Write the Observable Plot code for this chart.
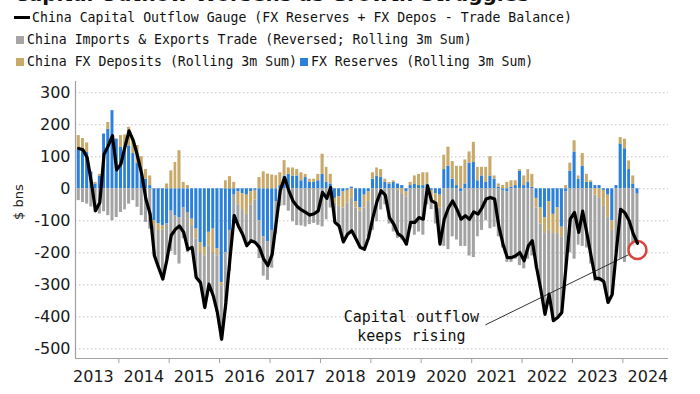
<!DOCTYPE html>
<html><head><meta charset="utf-8">
<script src="https://cdn.jsdelivr.net/npm/d3@7"></script>
<script src="https://cdn.jsdelivr.net/npm/@observablehq/plot@0.6"></script>
<style>
body{margin:0;background:#fff;}
#wrap{position:relative;width:700px;height:394px;overflow:hidden;background:#fff;}
#head{position:relative;height:74px;}
.t{position:absolute;font-family:"DejaVu Sans Mono",monospace;font-size:13.2px;color:#111;white-space:nowrap;line-height:16px;}
.sw{position:absolute;}
#title{position:absolute;left:14px;top:-18px;font:bold 20px "DejaVu Sans",sans-serif;white-space:nowrap;color:#111;}
#chart svg{display:block;}
</style></head>
<body><div id="wrap">
<div id="head">
  <div id="title">Capital Outflow Worsens as Growth Struggles</div>
  <div class="sw" style="left:14px;top:16px;width:16px;height:3px;background:#000;"></div>
  <div class="t" style="left:32px;top:10px;">China Capital Outflow Gauge (FX Reserves + FX Depos - Trade Balance)</div>
  <div class="sw" style="left:16px;top:36px;width:8px;height:8px;background:#a5a5a5;"></div>
  <div class="t" style="left:27px;top:32px;">China Imports &amp; Exports Trade (Reversed; Rolling 3m Sum)</div>
  <div class="sw" style="left:16px;top:58px;width:8px;height:8px;background:#c8a96a;"></div>
  <div class="t" style="left:27px;top:54px;">China FX Deposits (Rolling 3m Sum)</div>
  <div class="sw" style="left:300px;top:58px;width:8px;height:8px;background:#2b80da;"></div>
  <div class="t" style="left:311px;top:54px;">FX Reserves (Rolling 3m Sum)</div>
</div>
<div id="chart"></div>
</div>
<script>
// Monthly data, first month = March 2013, last = April 2024 ($ bns)
const firstMonth = "2013-03-01";

const reserves = [124,124,113,53,15,40,171,186,244,155,129,124,134,110,80,50,30,10,
-100,-110,-115,-110,-70,-85,-90,-60,-74,-95,-126,-168,-183,-136,-126,-188,-293,-200,-130,
-20,-10,-15,-20,-10,-5,-100,-150,-165,-130,-40,10,40,45,40,40,25,35,20,20,25,45,20,15,
-30,-25,-10,-5,5,-40,-60,-20,-10,30,40,35,20,15,20,15,10,-10,10,15,10,10,15,-5,-15,-20,
60,70,30,10,-10,15,80,82,25,40,20,40,30,5,-5,-10,5,10,55,10,20,5,-30,-60,-90,-40,-80,-60,
-120,-10,55,115,30,70,20,20,10,10,-5,-20,-100,10,140,125,60,15,-17];

const deposits = [42,33,30,0,5,5,0,21,0,0,37,44,58,40,55,50,30,30,
-15,-20,-15,15,56,82,119,20,10,-20,-31,-31,-26,-42,-73,-21,-10,25,38,
20,-40,-50,-60,-40,-30,35,53,46,43,41,40,48,20,25,20,25,10,10,10,20,63,47,30,
-15,-30,-50,-40,-30,-20,-10,-40,-30,20,25,25,10,5,5,-5,-15,-15,10,25,35,40,35,-20,-35,-40,
45,60,55,60,70,75,35,63,42,27,47,60,10,10,10,20,20,15,5,30,40,40,-30,-50,-50,-90,-60,-80,
-30,10,25,35,10,40,25,5,-20,-30,-50,-70,-30,0,20,30,27,25,0];

const trade = [-37,-43,-48,-57,-74,-79,-72,-84,-100,-90,-74,-66,-48,-37,-58,-84,-105,-126,
-95,-115,-150,-125,-126,-123,-145,-96,-125,-68,-120,-94,-162,-120,-135,-177,-167,-180,-128,
-84,-66,-77,-98,-112,-133,-118,-123,-121,-118,-101,-55,-53,-70,-103,-115,-116,-119,-112,-108,-114,-119,-97,-60,
-60,-61,-106,-97,-106,-97,-113,-129,-112,-130,-103,-66,-50,-110,-135,-150,-145,-148,-125,-145,-135,-145,-50,-40,-60,-110,
-180,-190,-150,-160,-170,-180,-210,-215,-150,-130,-100,-125,-120,-150,-180,-220,-230,-220,-240,-250,-220,-210,-190,-200,-250,-200,-270,-260,
-240,-240,-200,-220,-176,-180,-185,-235,-270,-260,-235,-265,-200,-200,-220,-230,-190,-180,-160];

const gauge = [126,122,98,20,-69,-43,108,134,166,59,77,134,181,150,103,46,-32,-79,
-209,-246,-282,-220,-145,-126,-116,-136,-189,-183,-277,-293,-371,-298,-334,-386,-470,-355,-220,
-84,-116,-142,-178,-162,-168,-183,-220,-240,-205,-100,-5,35,-5,-38,-55,-66,-74,-82,-78,-69,-11,-30,4,
-105,-116,-166,-142,-131,-157,-183,-189,-152,-90,-38,-6,-20,-90,-110,-140,-150,-173,-105,-105,-90,-95,9,-38,-45,-173,
-95,-60,-38,-64,-95,-84,-95,-72,-79,-60,-32,-27,-32,-116,-173,-215,-215,-209,-199,-225,-178,-162,-246,-313,-392,-329,-412,-402,
-386,-240,-95,-74,-136,-70,-140,-210,-280,-280,-290,-355,-330,-190,-64,-75,-100,-140,-170];

const seriesNames = ["FX Reserves", "China FX Deposits", "China Imports & Exports Trade"];
const seriesColors = ["#2b80da", "#c8a96a", "#a3a3a3"];

const yTicks = [-500,-400,-300,-200,-100,0,100,200,300];
const tickYears = [2014,2015,2016,2017,2018,2019,2020,2021,2022,2023,2024];
const labelYears = [2013,2014,2015,2016,2017,2018,2019,2020,2021,2022,2023,2024];

const xDomain = [new Date("2013-02-21"), new Date("2024-11-27")];
const yDomain = [-530, 335];

const note = {text: "Capital outflow\nkeeps rising", x: new Date("2019-10-22"), y: -426};
const pointer = {x1: new Date("2021-04-10"), y1: -425, x2: new Date("2024-02-25"), y2: -203};
const marker = {x: new Date("2024-04-16"), y: -191};

// build tables
const start0 = new Date(firstMonth);
const months = reserves.map((_, i) => d3.utcMonth.offset(start0, i));
const rows = [];
const seriesArrays = [reserves, deposits, trade];
months.forEach((m, i) => {
  const end = d3.utcMonth.offset(m, 1);
  seriesArrays.forEach((arr, k) => rows.push({start: m, end, series: seriesNames[k], value: arr[i]}));
});
const lineRows = months.map((m, i) => ({mid: d3.utcDay.offset(m, 15), value: gauge[i]}));

const mono = "DejaVu Sans Mono, monospace";
const sans = "DejaVu Sans, sans-serif";

const chart = Plot.plot({
  width: 700,
  height: 320,
  marginLeft: 75,
  marginRight: 32,
  marginTop: 7,
  marginBottom: 36,
  style: {fontFamily: sans, fontSize: "16px", color: "#1a1a1a", background: "#fff"},
  x: {type: "utc", domain: xDomain, label: null},
  y: {domain: yDomain, label: null},
  color: {domain: seriesNames, range: seriesColors},
  marks: [
    Plot.ruleY(yTicks, {stroke: "#c4c4c4", strokeWidth: 1, strokeDasharray: "1.5,2.5"}),
    Plot.rectY(rows, Plot.stackY({x1: "start", x2: "end", y: "value", fill: "series",
      order: seriesNames, insetLeft: 0.6, insetRight: 0.6})),
    Plot.ruleY([yDomain[0]], {stroke: "#a0a0a0", strokeWidth: 1.2}),
    Plot.ruleX([xDomain[0]], {stroke: "#a0a0a0", strokeWidth: 1.2}),
    Plot.link([pointer], {x1: "x1", y1: "y1", x2: "x2", y2: "y2", stroke: "#333", strokeWidth: 1}),
    Plot.dot([marker], {x: "x", y: "y", r: 9, stroke: "#d8443c", strokeWidth: 2.5, fill: "#ffffff", fillOpacity: 0.6}),
    Plot.line(lineRows, {x: "mid", y: "value", stroke: "#000", strokeWidth: 3.2, strokeLinejoin: "round"}),
    Plot.text([note], {x: "x", y: "y", text: "text", fontFamily: mono, fontSize: 15, lineHeight: 1.25, textAnchor: "middle", fill: "#111"}),
    Plot.axisY({ticks: yTicks, tickSize: 0, tickPadding: 5, tickFormat: d => String(d), fontSize: 16, label: null}),
    Plot.axisX({ticks: tickYears.map(y => new Date(Date.UTC(y, 0, 1))), tickSize: 5, stroke: "#a0a0a0", tickFormat: () => "", label: null}),
    Plot.axisX({ticks: labelYears.map(y => new Date(Date.UTC(y, 6, 1))), tickSize: 0, tickPadding: 12, tickFormat: d3.utcFormat("%Y"), fontSize: 16, label: null}),
    Plot.text(["$ bns"], {frameAnchor: "left", dx: -57, rotate: -90, fontSize: 13, fill: "#222"})
  ]
});
document.getElementById("chart").appendChild(chart);
</script>
</body></html>
